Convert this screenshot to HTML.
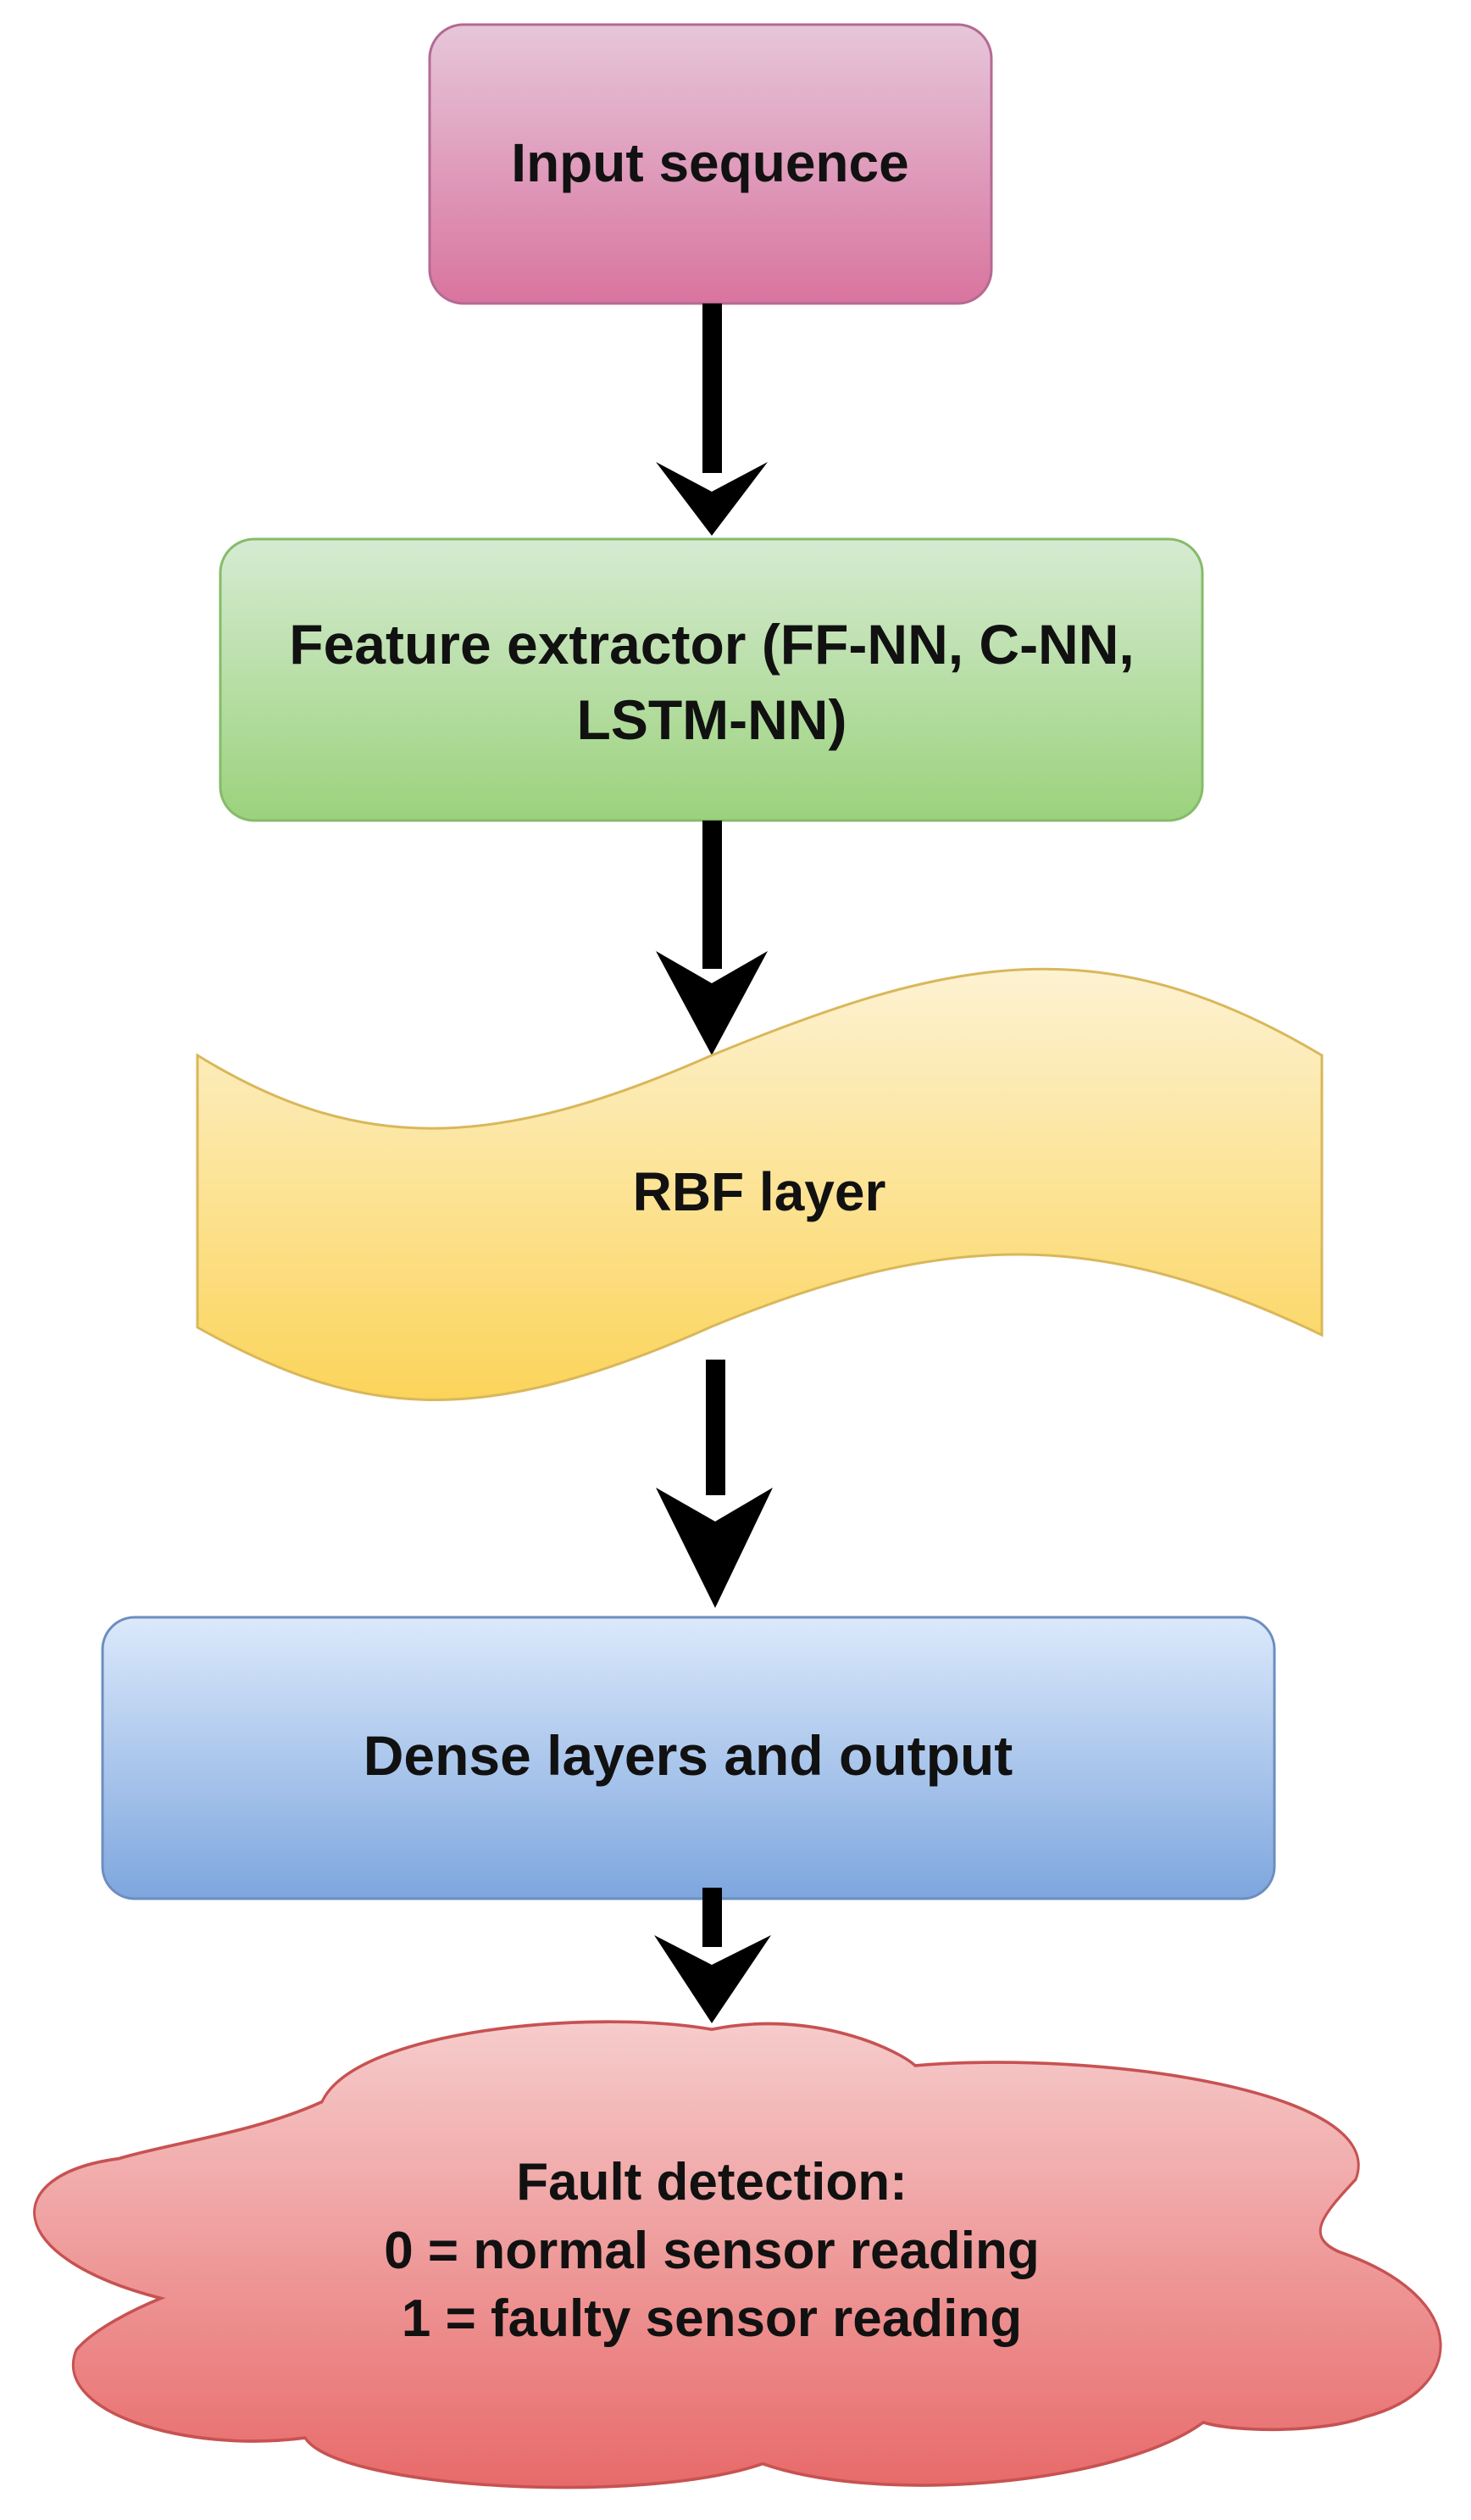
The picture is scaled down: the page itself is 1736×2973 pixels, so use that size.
<!DOCTYPE html>
<html><head><meta charset="utf-8"><style>
html,body{margin:0;padding:0;background:#fff}
svg{display:block}
text{font-family:"Liberation Sans",Arial,sans-serif;font-weight:bold;fill:#111}
</style></head><body>
<svg width="1736" height="2973" viewBox="0 0 1736 2973" xmlns="http://www.w3.org/2000/svg">
<defs>
<linearGradient id="gp" x1="0" y1="0" x2="0" y2="1"><stop offset="0" stop-color="#e6c6da"/><stop offset="1" stop-color="#d9749f"/></linearGradient>
<linearGradient id="gg" x1="0" y1="0" x2="0" y2="1"><stop offset="0" stop-color="#d6ebd2"/><stop offset="1" stop-color="#9bd27c"/></linearGradient>
<linearGradient id="gy" x1="0" y1="0" x2="0" y2="1"><stop offset="0" stop-color="#fdf2d2"/><stop offset="1" stop-color="#fbd45a"/></linearGradient>
<linearGradient id="gb" x1="0" y1="0" x2="0" y2="1"><stop offset="0" stop-color="#dbe9fb"/><stop offset="1" stop-color="#7ea6de"/></linearGradient>
<linearGradient id="gr" x1="0" y1="0" x2="0" y2="1"><stop offset="0" stop-color="#f6cccc"/><stop offset="1" stop-color="#e86a6a"/></linearGradient>
</defs>
<rect x="507" y="29" width="663" height="329" rx="40" fill="url(#gp)" stroke="#b46a93" stroke-width="3"/>
<text x="838" y="214" font-size="64" text-anchor="middle">Input sequence</text>
<rect x="829" y="358" width="23" height="200" fill="#000"/>
<path d="M774 545 L840 632 L906 545 L840 580 Z" fill="#000"/>
<rect x="260" y="636" width="1159" height="332" rx="40" fill="url(#gg)" stroke="#86bb6a" stroke-width="3"/>
<text x="840" y="783" font-size="66" text-anchor="middle">Feature extractor (FF-NN, C-NN,</text>
<text x="840" y="872" font-size="66" text-anchor="middle">LSTM-NN)</text>
<rect x="829" y="968" width="23" height="175" fill="#000"/>
<path d="M774 1122 L840 1245 L906 1122 L840 1160 Z" fill="#000"/>
<path d="M233 1245 C420 1360 580 1360 840 1245 C1120 1130 1300 1090 1560 1245 L1560 1575 C1300 1450 1120 1450 840 1565 C560 1690 420 1670 233 1566 Z" fill="url(#gy)" stroke="#d9b75a" stroke-width="3"/>
<text x="896" y="1428" font-size="64" text-anchor="middle">RBF layer</text>
<rect x="833" y="1604" width="23" height="160" fill="#000"/>
<path d="M774 1755 L844 1897 L912 1755 L844 1795 Z" fill="#000"/>
<rect x="121" y="1908" width="1383" height="332" rx="38" fill="url(#gb)" stroke="#6c8ebf" stroke-width="3"/>
<text x="812" y="2094" font-size="66" text-anchor="middle">Dense layers and output</text>
<rect x="829" y="2227" width="23" height="70" fill="#000"/>
<path d="M772 2283 L840 2387 L910 2283 L840 2318 Z" fill="#000"/>
<g transform="translate(0,2382) scale(1,1.22) translate(0,-2260)">
<path d="M380 2340 C420 2270 700 2250 840 2270 C960 2250 1060 2290 1080 2305 C1300 2290 1640 2330 1600 2415 C1560 2450 1540 2470 1580 2485 C1740 2530 1730 2620 1610 2645 C1560 2660 1460 2660 1420 2650 C1320 2710 1040 2730 900 2690 C760 2730 400 2715 360 2665 C220 2680 60 2640 90 2580 C110 2560 160 2540 190 2530 C0 2490 0 2410 140 2395 C200 2380 300 2370 380 2340 Z" fill="url(#gr)" stroke="#c75252" stroke-width="3"/>
</g>
<text x="840" y="2595" font-size="62" text-anchor="middle">Fault detection:</text>
<text x="840" y="2676" font-size="62" text-anchor="middle">0 = normal sensor reading</text>
<text x="840" y="2756" font-size="62" text-anchor="middle">1 = faulty sensor reading</text>
</svg>
</body></html>
